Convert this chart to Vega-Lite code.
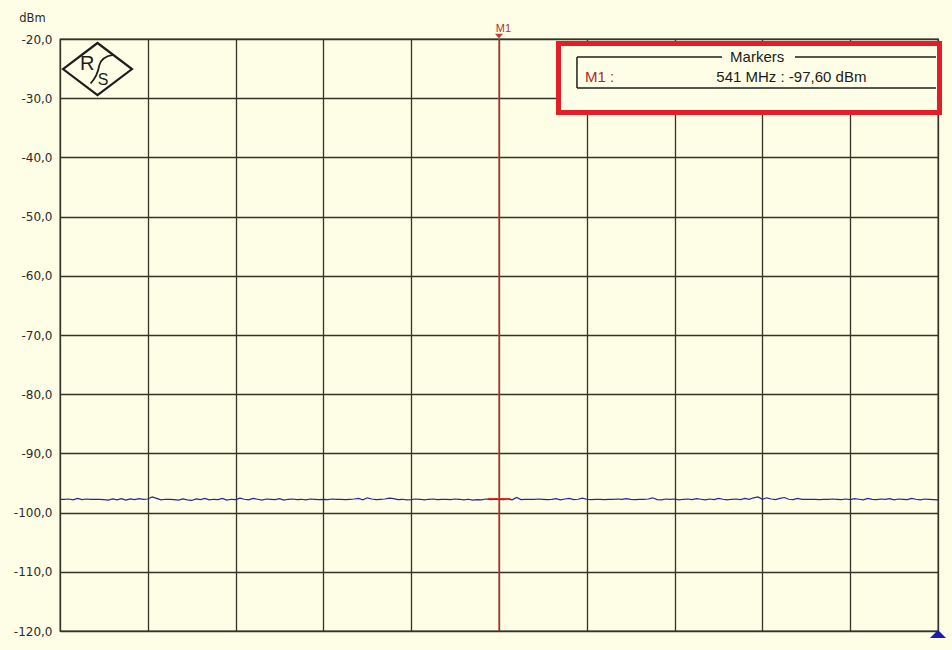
{
  "$schema": "https://vega.github.io/schema/vega-lite/v6.json",
  "width": 878,
  "height": 592,
  "autosize": {"type": "none"},
  "padding": {"left": 60, "top": 39, "right": 14, "bottom": 19},
  "background": "#FEFEE6",
  "config": {
    "view": {"stroke": "#2a2a1e", "strokeWidth": 1.3, "fill": "#FEFEE6"},
    "font": "Liberation Sans"
  },
  "datasets": {
    "trace": [
      {"mhz":536.00,"dbm":-97.75},{"mhz":536.05,"dbm":-97.75},{"mhz":536.10,"dbm":-97.7},{"mhz":536.15,"dbm":-97.85},{"mhz":536.20,"dbm":-97.6},
      {"mhz":536.25,"dbm":-97.8},{"mhz":536.30,"dbm":-97.7},{"mhz":536.35,"dbm":-97.75},{"mhz":536.40,"dbm":-97.75},{"mhz":536.45,"dbm":-97.75},
      {"mhz":536.50,"dbm":-97.8},{"mhz":536.55,"dbm":-97.9},{"mhz":536.60,"dbm":-97.7},{"mhz":536.65,"dbm":-97.85},{"mhz":536.70,"dbm":-97.65},
      {"mhz":536.75,"dbm":-97.9},{"mhz":536.80,"dbm":-97.7},{"mhz":536.85,"dbm":-97.8},{"mhz":536.90,"dbm":-97.65},{"mhz":536.95,"dbm":-97.75},
      {"mhz":537.00,"dbm":-97.7},{"mhz":537.05,"dbm":-97.35},{"mhz":537.10,"dbm":-97.6},{"mhz":537.15,"dbm":-97.85},{"mhz":537.20,"dbm":-97.75},
      {"mhz":537.25,"dbm":-97.75},{"mhz":537.30,"dbm":-97.8},{"mhz":537.35,"dbm":-97.9},{"mhz":537.40,"dbm":-97.7},{"mhz":537.45,"dbm":-97.85},
      {"mhz":537.50,"dbm":-97.95},{"mhz":537.55,"dbm":-97.7},{"mhz":537.60,"dbm":-97.8},{"mhz":537.65,"dbm":-97.6},{"mhz":537.70,"dbm":-97.85},
      {"mhz":537.75,"dbm":-97.75},{"mhz":537.80,"dbm":-97.8},{"mhz":537.85,"dbm":-97.6},{"mhz":537.90,"dbm":-97.9},{"mhz":537.95,"dbm":-97.75},
      {"mhz":538.00,"dbm":-97.8},{"mhz":538.05,"dbm":-97.55},{"mhz":538.10,"dbm":-97.75},{"mhz":538.15,"dbm":-97.85},{"mhz":538.20,"dbm":-97.6},
      {"mhz":538.25,"dbm":-97.75},{"mhz":538.30,"dbm":-97.9},{"mhz":538.35,"dbm":-97.7},{"mhz":538.40,"dbm":-97.75},{"mhz":538.45,"dbm":-97.8},
      {"mhz":538.50,"dbm":-97.65},{"mhz":538.55,"dbm":-97.9},{"mhz":538.60,"dbm":-97.75},{"mhz":538.65,"dbm":-97.7},{"mhz":538.70,"dbm":-97.8},
      {"mhz":538.75,"dbm":-97.75},{"mhz":538.80,"dbm":-97.85},{"mhz":538.85,"dbm":-97.7},{"mhz":538.90,"dbm":-97.75},{"mhz":538.95,"dbm":-97.8},
      {"mhz":539.00,"dbm":-97.75},{"mhz":539.05,"dbm":-97.8},{"mhz":539.10,"dbm":-97.7},{"mhz":539.15,"dbm":-97.75},{"mhz":539.20,"dbm":-97.75},
      {"mhz":539.25,"dbm":-97.8},{"mhz":539.30,"dbm":-97.75},{"mhz":539.35,"dbm":-97.7},{"mhz":539.40,"dbm":-97.6},{"mhz":539.45,"dbm":-97.85},
      {"mhz":539.50,"dbm":-97.5},{"mhz":539.55,"dbm":-97.7},{"mhz":539.60,"dbm":-97.8},{"mhz":539.65,"dbm":-97.75},{"mhz":539.70,"dbm":-97.7},
      {"mhz":539.75,"dbm":-97.55},{"mhz":539.80,"dbm":-97.65},{"mhz":539.85,"dbm":-97.8},{"mhz":539.90,"dbm":-97.75},{"mhz":539.95,"dbm":-97.85},
      {"mhz":540.00,"dbm":-97.8},{"mhz":540.05,"dbm":-97.7},{"mhz":540.10,"dbm":-97.75},{"mhz":540.15,"dbm":-97.85},{"mhz":540.20,"dbm":-97.75},
      {"mhz":540.25,"dbm":-97.7},{"mhz":540.30,"dbm":-97.8},{"mhz":540.35,"dbm":-97.75},{"mhz":540.40,"dbm":-97.75},{"mhz":540.45,"dbm":-97.8},
      {"mhz":540.50,"dbm":-97.7},{"mhz":540.55,"dbm":-97.75},{"mhz":540.60,"dbm":-97.85},{"mhz":540.65,"dbm":-97.75},{"mhz":540.70,"dbm":-97.9},
      {"mhz":540.75,"dbm":-97.8},{"mhz":540.80,"dbm":-97.85},{"mhz":540.85,"dbm":-97.7},{"mhz":540.90,"dbm":-97.8},{"mhz":540.95,"dbm":-97.75},
      {"mhz":541.00,"dbm":-97.75},{"mhz":541.05,"dbm":-97.8},{"mhz":541.10,"dbm":-97.7},{"mhz":541.15,"dbm":-97.85},{"mhz":541.20,"dbm":-97.45},
      {"mhz":541.25,"dbm":-97.8},{"mhz":541.30,"dbm":-97.75},{"mhz":541.35,"dbm":-97.75},{"mhz":541.40,"dbm":-97.75},{"mhz":541.45,"dbm":-97.7},
      {"mhz":541.50,"dbm":-97.75},{"mhz":541.55,"dbm":-97.8},{"mhz":541.60,"dbm":-97.75},{"mhz":541.65,"dbm":-97.65},{"mhz":541.70,"dbm":-97.85},
      {"mhz":541.75,"dbm":-97.7},{"mhz":541.80,"dbm":-97.6},{"mhz":541.85,"dbm":-97.8},{"mhz":541.90,"dbm":-97.75},{"mhz":541.95,"dbm":-97.55},
      {"mhz":542.00,"dbm":-97.75},{"mhz":542.05,"dbm":-97.8},{"mhz":542.10,"dbm":-97.75},{"mhz":542.15,"dbm":-97.75},{"mhz":542.20,"dbm":-97.8},
      {"mhz":542.25,"dbm":-97.75},{"mhz":542.30,"dbm":-97.75},{"mhz":542.35,"dbm":-97.7},{"mhz":542.40,"dbm":-97.75},{"mhz":542.45,"dbm":-97.65},
      {"mhz":542.50,"dbm":-97.75},{"mhz":542.55,"dbm":-97.8},{"mhz":542.60,"dbm":-97.75},{"mhz":542.65,"dbm":-97.75},{"mhz":542.70,"dbm":-97.7},
      {"mhz":542.75,"dbm":-97.5},{"mhz":542.80,"dbm":-97.8},{"mhz":542.85,"dbm":-97.85},{"mhz":542.90,"dbm":-97.7},{"mhz":542.95,"dbm":-97.75},
      {"mhz":543.00,"dbm":-97.7},{"mhz":543.05,"dbm":-97.85},{"mhz":543.10,"dbm":-97.75},{"mhz":543.15,"dbm":-97.7},{"mhz":543.20,"dbm":-97.8},
      {"mhz":543.25,"dbm":-97.65},{"mhz":543.30,"dbm":-97.75},{"mhz":543.35,"dbm":-97.85},{"mhz":543.40,"dbm":-97.7},{"mhz":543.45,"dbm":-97.8},
      {"mhz":543.50,"dbm":-97.6},{"mhz":543.55,"dbm":-97.75},{"mhz":543.60,"dbm":-97.85},{"mhz":543.65,"dbm":-97.75},{"mhz":543.70,"dbm":-97.7},
      {"mhz":543.75,"dbm":-97.8},{"mhz":543.80,"dbm":-97.6},{"mhz":543.85,"dbm":-97.75},{"mhz":543.90,"dbm":-97.5},{"mhz":543.95,"dbm":-97.35},
      {"mhz":544.00,"dbm":-97.75},{"mhz":544.05,"dbm":-97.5},{"mhz":544.10,"dbm":-97.7},{"mhz":544.15,"dbm":-97.8},{"mhz":544.20,"dbm":-97.6},
      {"mhz":544.25,"dbm":-97.45},{"mhz":544.30,"dbm":-97.75},{"mhz":544.35,"dbm":-97.8},{"mhz":544.40,"dbm":-97.6},{"mhz":544.45,"dbm":-97.75},
      {"mhz":544.50,"dbm":-97.75},{"mhz":544.55,"dbm":-97.75},{"mhz":544.60,"dbm":-97.75},{"mhz":544.65,"dbm":-97.8},{"mhz":544.70,"dbm":-97.75},
      {"mhz":544.75,"dbm":-97.75},{"mhz":544.80,"dbm":-97.7},{"mhz":544.85,"dbm":-97.75},{"mhz":544.90,"dbm":-97.8},{"mhz":544.95,"dbm":-97.7},
      {"mhz":545.00,"dbm":-97.8},{"mhz":545.05,"dbm":-97.65},{"mhz":545.10,"dbm":-97.75},{"mhz":545.15,"dbm":-97.85},{"mhz":545.20,"dbm":-97.6},
      {"mhz":545.25,"dbm":-97.75},{"mhz":545.30,"dbm":-97.8},{"mhz":545.35,"dbm":-97.7},{"mhz":545.40,"dbm":-97.75},{"mhz":545.45,"dbm":-97.65},
      {"mhz":545.50,"dbm":-97.85},{"mhz":545.55,"dbm":-97.7},{"mhz":545.60,"dbm":-97.75},{"mhz":545.65,"dbm":-97.8},{"mhz":545.70,"dbm":-97.6},
      {"mhz":545.75,"dbm":-97.75},{"mhz":545.80,"dbm":-97.85},{"mhz":545.85,"dbm":-97.7},{"mhz":545.90,"dbm":-97.75},{"mhz":545.95,"dbm":-97.8},
      {"mhz":546.00,"dbm":-97.85}
    ],
    "marker": [{"mhz": 541.0, "top": -20, "bottom": -120}],
    "markerLabel": [{"mhz": 541.05, "dbm": -18.3, "label": "M1"}],
    "markerTip": [{"mhz": 541.0, "dbm": -19.5}],
    "markerDot": [{"from": 540.87, "to": 541.13, "dbm": -97.65}],
    "box": [{"x1": 541.678, "x2": 546.017, "y1": -20.76, "y2": -32.42}],
    "frame": [
      {"x1": 541.888, "x2": 541.888, "y1": -23.04, "y2": -28.28},
      {"x1": 541.888, "x2": 545.977, "y1": -28.28, "y2": -28.28},
      {"x1": 541.888, "x2": 543.54, "y1": -23.04, "y2": -23.04},
      {"x1": 544.371, "x2": 545.977, "y1": -23.04, "y2": -23.04}
    ],
    "boxText": [
      {"mhz": 543.94, "dbm": -23.1, "label": "Markers"},
      {"mhz": 544.33, "dbm": -26.42, "label": "541 MHz : -97,60 dBm"}
    ],
    "boxName": [{"mhz": 541.98, "dbm": -26.42, "label": "M1 :"}],
    "logo": [{"mhz": 536.427, "dbm": -25.07}],
    "logoText": [
      {"mhz": 536.31, "dbm": -24.3, "label": "R", "size": "big"},
      {"mhz": 536.49, "dbm": -26.9, "label": "S", "size": "small"}
    ],
    "endMark": [{"mhz": 546.0, "dbm": -120.5}]
  },
  "layer": [
    {
      "data": {"name": "marker"},
      "mark": {"type": "rule", "color": "#C0403A", "strokeWidth": 1.3},
      "encoding": {
        "x": {
          "field": "mhz", "type": "quantitative",
          "scale": {"domain": [536, 546], "nice": false, "zero": false},
          "axis": {
            "grid": true, "values": [536,537,538,539,540,541,542,543,544,545,546],
            "labels": false, "ticks": false, "domain": false, "title": null,
            "gridColor": "#333326", "gridOpacity": 1, "gridWidth": 1.3
          }
        },
        "y": {
          "field": "top", "type": "quantitative",
          "scale": {"domain": [-120, -20], "nice": false, "zero": false},
          "axis": {
            "grid": true, "values": [-120,-110,-100,-90,-80,-70,-60,-50,-40,-30,-20],
            "labelExpr": "replace(replace(format(datum.value, '.1f'), '.', ','), '\u2212', '-')",
            "ticks": false, "domain": false, "labelPadding": 8,
            "labelFlush": false, "labelOverlap": false,
            "labelFont": "DejaVu Sans", "labelFontSize": 12, "labelColor": "#2b2b2b",
            "labelBaseline": "middle",
            "gridColor": "#333326", "gridOpacity": 1, "gridWidth": 1.3,
            "title": "dBm", "titleAngle": 0, "titleX": -28, "titleY": -21,
            "titleAlign": "center", "titleBaseline": "middle",
            "titleFont": "DejaVu Sans", "titleFontSize": 11.5, "titleFontWeight": "normal",
            "titleColor": "#2b2b2b"
          }
        },
        "y2": {"field": "bottom"}
      }
    },
    {
      "data": {"name": "trace"},
      "mark": {"type": "line", "color": "#28288e", "strokeWidth": 1.2},
      "encoding": {
        "x": {"field": "mhz", "type": "quantitative"},
        "y": {"field": "dbm", "type": "quantitative"}
      }
    },
    {
      "data": {"name": "markerDot"},
      "mark": {"type": "rule", "color": "#E03030", "strokeWidth": 1.5},
      "encoding": {
        "x": {"field": "from", "type": "quantitative"},
        "x2": {"field": "to"},
        "y": {"field": "dbm", "type": "quantitative"}
      }
    },
    {
      "data": {"name": "markerTip"},
      "mark": {"type": "point", "shape": "M-1,-0.6L1,-0.6L0,0.6Z", "size": 64, "filled": true, "color": "#C0403A", "opacity": 1},
      "encoding": {
        "x": {"field": "mhz", "type": "quantitative"},
        "y": {"field": "dbm", "type": "quantitative"}
      }
    },
    {
      "data": {"name": "markerLabel"},
      "mark": {"type": "text", "color": "#B03030", "fontSize": 11, "font": "Liberation Sans", "align": "center", "baseline": "middle"},
      "encoding": {
        "x": {"field": "mhz", "type": "quantitative"},
        "y": {"field": "dbm", "type": "quantitative"},
        "text": {"field": "label"}
      }
    },
    {
      "data": {"name": "box"},
      "mark": {"type": "rect", "fill": "#FEFEE6", "stroke": "#E41E26", "strokeWidth": 5},
      "encoding": {
        "x": {"field": "x1", "type": "quantitative"},
        "x2": {"field": "x2"},
        "y": {"field": "y1", "type": "quantitative"},
        "y2": {"field": "y2"}
      }
    },
    {
      "data": {"name": "frame"},
      "mark": {"type": "rule", "color": "#1e1e1e", "strokeWidth": 1.5},
      "encoding": {
        "x": {"field": "x1", "type": "quantitative"},
        "x2": {"field": "x2"},
        "y": {"field": "y1", "type": "quantitative"},
        "y2": {"field": "y2"}
      }
    },
    {
      "data": {"name": "boxText"},
      "mark": {"type": "text", "color": "#1a1a1a", "fontSize": 15, "font": "Liberation Sans", "align": "center", "baseline": "middle"},
      "encoding": {
        "x": {"field": "mhz", "type": "quantitative"},
        "y": {"field": "dbm", "type": "quantitative"},
        "text": {"field": "label"}
      }
    },
    {
      "data": {"name": "boxName"},
      "mark": {"type": "text", "color": "#B02828", "fontSize": 15, "font": "Liberation Sans", "align": "left", "baseline": "middle"},
      "encoding": {
        "x": {"field": "mhz", "type": "quantitative"},
        "y": {"field": "dbm", "type": "quantitative"},
        "text": {"field": "label"}
      }
    },
    {
      "data": {"name": "logo"},
      "mark": {"type": "point", "shape": "M-1,0L0,-0.754L1,0L0,0.754Z", "size": 4761, "filled": false, "color": "#1e1e1e", "strokeWidth": 2.2, "opacity": 1},
      "encoding": {
        "x": {"field": "mhz", "type": "quantitative"},
        "y": {"field": "dbm", "type": "quantitative"}
      }
    },
    {
      "data": {"name": "logo"},
      "mark": {"type": "point", "shape": "M0.45,-0.41Q0.1,-0.35 0.05,-0.1Q0.0,0.2 -0.2,0.42", "size": 4761, "filled": false, "color": "#1e1e1e", "strokeWidth": 1.8, "opacity": 1},
      "encoding": {
        "x": {"field": "mhz", "type": "quantitative"},
        "y": {"field": "dbm", "type": "quantitative"}
      }
    },
    {
      "data": {"name": "logoText"},
      "transform": [{"filter": "datum.size == 'big'"}],
      "mark": {"type": "text", "color": "#1e1e1e", "fontSize": 20, "font": "Liberation Sans", "align": "center", "baseline": "middle"},
      "encoding": {
        "x": {"field": "mhz", "type": "quantitative"},
        "y": {"field": "dbm", "type": "quantitative"},
        "text": {"field": "label"}
      }
    },
    {
      "data": {"name": "logoText"},
      "transform": [{"filter": "datum.size == 'small'"}],
      "mark": {"type": "text", "color": "#1e1e1e", "fontSize": 16, "font": "Liberation Sans", "align": "center", "baseline": "middle"},
      "encoding": {
        "x": {"field": "mhz", "type": "quantitative"},
        "y": {"field": "dbm", "type": "quantitative"},
        "text": {"field": "label"}
      }
    },
    {
      "data": {"name": "endMark"},
      "mark": {"type": "point", "shape": "M-1,0.5L0,-0.5L1,0.5Z", "size": 256, "filled": true, "color": "#1c1cb0", "opacity": 1},
      "encoding": {
        "x": {"field": "mhz", "type": "quantitative"},
        "y": {"field": "dbm", "type": "quantitative"}
      }
    }
  ]
}
